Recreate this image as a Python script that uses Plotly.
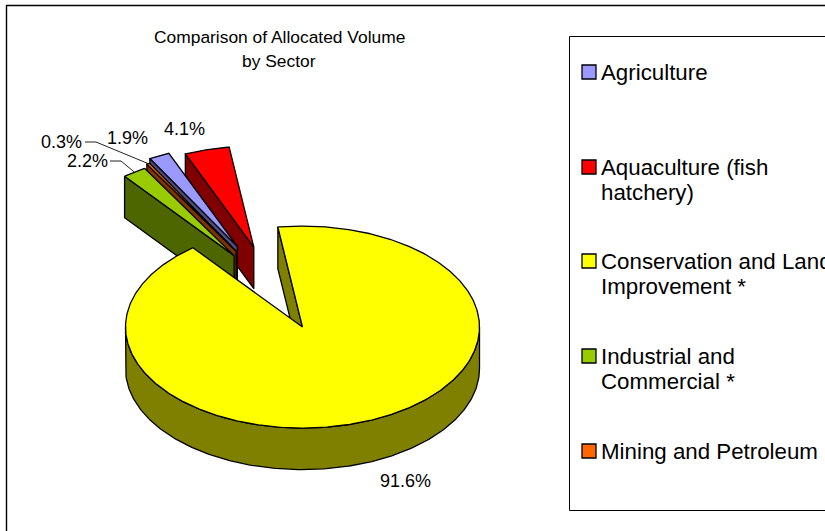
import numpy as np
import plotly.graph_objects as go

categories = ["Agriculture", "Aquaculture (fish hatchery)", "Conservation and Land Improvement *",
              "Industrial and Commercial *", "Mining and Petroleum"]
legend_lines = [["Agriculture"], ["Aquaculture (fish", "hatchery)"], ["Conservation and Land", "Improvement *"],
                ["Industrial and", "Commercial *"], ["Mining and Petroleum"]]
values = [1.9, 4.1, 91.6, 2.2, 0.3]
value_labels = ["1.9%", "4.1%", "91.6%", "2.2%", "0.3%"]
top_colors = ["#9999FF", "#FF0000", "#FFFF00", "#99CC00", "#FF6600"]
side_colors = ["#4D4D80", "#800000", "#808000", "#4D6600", "#803300"]
explode = [0.47, 0.43, 0.41, 0.40, 0.43]
title_lines = ["Comparison of Allocated Volume", "by Sector"]

# geometry / style
CX, CY = 274.0, 289.0
RX, RY, DEPTH = 177.0, 101.0, 41.5
START_DEG = -8.0 - 360 * (values[0] + values[1]) / 100
DRAW_ORDER = [1, 0, 4, 3, 2]
LABEL_POS = {0: (127, 138), 1: (184, 129), 2: (405, 481), 3: (87, 161), 4: (61, 142)}
LEADERS = {3: (110, 121, 161), 4: (85, 96, 142)}
LEGEND_Y = [72, 167, 261, 356, 451]
FONT = "Liberation Sans"
LW = 1.3

fig = go.Figure()

def poly(xs, ys, fill):
    fig.add_trace(go.Scatter(x=xs, y=ys, mode="lines", fill="toself", fillcolor=fill,
                             line=dict(color="black", width=LW), hoverinfo="skip", showlegend=False))

edges = START_DEG + np.concatenate([[0], np.cumsum(values)]) * 3.6
tips, ends = {}, {}
for i in range(len(values)):
    a0, a1 = edges[i], edges[i + 1]
    mid = np.radians((a0 + a1) / 2)
    tx = CX + explode[i] * RX * np.sin(mid)
    ty = CY - explode[i] * RY * np.cos(mid)
    tips[i] = (tx, ty)
    ends[i] = (a0, a1)

outer_mid = {}
for i in DRAW_ORDER:
    a0, a1 = ends[i]
    tx, ty = tips[i]
    px = lambda a: tx + RX * np.sin(np.radians(a))
    py = lambda a: ty - RY * np.cos(np.radians(a))
    # radial walls that face the viewer
    for a, sign in ((a0, -1), (a1, 1)):
        if sign * np.sin(np.radians(a)) > 0:
            poly([tx, px(a), px(a), tx, tx], [ty, py(a), py(a) + DEPTH, ty + DEPTH, ty], side_colors[i])
    # outer rim: front half of the ellipse only
    lo, hi = max(a0, 90.0), min(a1, 270.0)
    if hi > lo:
        arc = np.linspace(lo, hi, 200)
        poly(np.r_[px(arc), px(arc[::-1]), px(arc[0])],
             np.r_[py(arc), py(arc[::-1]) + DEPTH, py(arc[0])], side_colors[i])
    arc = np.linspace(a0, a1, max(int(a1 - a0) * 2, 12))
    poly(np.r_[tx, px(arc), tx], np.r_[ty, py(arc), ty], top_colors[i])
    outer_mid[i] = (px((a0 + a1) / 2), py((a0 + a1) / 2))

# leader lines
for i, (x0, x1, y) in LEADERS.items():
    ex, ey = outer_mid[i]
    fig.add_trace(go.Scatter(x=[x0, x1, ex], y=[y, y, ey], mode="lines", hoverinfo="skip",
                             line=dict(color="#222222", width=1), showlegend=False))

annotations = []
def text(x, y, s, size, anchor="center"):
    annotations.append(dict(x=x, y=y, xref="x", yref="y", text=s, showarrow=False, xanchor=anchor,
                            yanchor="middle", font=dict(family=FONT, size=size, color="black")))

for i, s in enumerate(value_labels):
    text(*LABEL_POS[i], s, 18)
for k, s in enumerate(title_lines):
    text(279, 37 + 24 * k, s, 17.4)

shapes = [
    dict(type="rect", xref="x", yref="y", x0=6.5, y0=5.5, x1=900, y1=560, line=dict(color="black", width=1.4), layer="below"),
    dict(type="rect", xref="x", yref="y", x0=569.5, y0=36.5, x1=900, y1=510.5, line=dict(color="black", width=1), layer="below"),
]
for i, lines in enumerate(legend_lines):
    y = LEGEND_Y[i]
    shapes.append(dict(type="rect", xref="x", yref="y", x0=582, x1=596, y0=y - 7, y1=y + 7,
                       fillcolor=top_colors[i], line=dict(color="black", width=1.3)))
    for k, s in enumerate(lines):
        text(599, y + k * 25, s, 22.3, "left")

fig.update_layout(
    width=825, height=531, margin=dict(l=0, r=0, t=0, b=0), showlegend=False,
    paper_bgcolor="white", plot_bgcolor="white", annotations=annotations, shapes=shapes,
    xaxis=dict(range=[0, 825], visible=False, fixedrange=True),
    yaxis=dict(range=[531, 0], visible=False, fixedrange=True),
)
fig.write_html("out.html", config=dict(displayModeBar=False),
               post_script="document.body.style.margin='0';document.documentElement.style.overflow='hidden';")
